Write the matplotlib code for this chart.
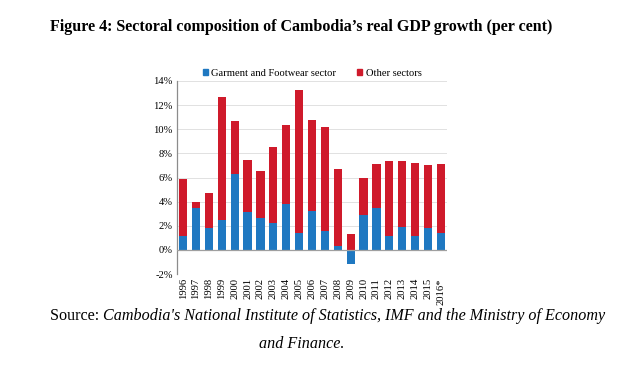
import numpy as np
import matplotlib.pyplot as plt
from matplotlib.patches import Patch

# Data (per cent)
years = ['1996', '1997', '1998', '1999', '2000', '2001', '2002', '2003', '2004',
         '2005', '2006', '2007', '2008', '2009', '2010', '2011', '2012', '2013',
         '2014', '2015', '2016*']
garment = [1.16, 3.51, 1.80, 2.49, 6.27, 3.15, 2.68, 2.26, 3.81, 1.38, 3.26,
           1.60, 0.33, -1.19, 2.87, 3.45, 1.16, 1.88, 1.19, 1.80, 1.38]
other = [4.72, 0.47, 2.90, 10.21, 4.44, 4.31, 3.87, 6.24, 6.52, 11.88, 7.51,
         8.62, 6.35, 1.35, 3.12, 3.65, 6.21, 5.52, 5.99, 5.27, 5.74]
yticks = [-2, 0, 2, 4, 6, 8, 10, 12, 14]

BLUE = '#1F78C1'
RED = '#CF1A2B'
SERIF = ['Liberation Serif', 'DejaVu Serif']

plt.rcParams['font.family'] = SERIF

fig = plt.figure(figsize=(6.36, 3.75), dpi=100)
ax = fig.add_axes([177 / 636, 1 - 274 / 375, 270 / 636, 193 / 375])

x = np.arange(len(years))
bottoms = np.maximum(np.array(garment), 0)
ax.bar(x, garment, width=0.64, color=BLUE, zorder=3)
ax.bar(x, other, bottom=bottoms, width=0.64, color=RED, zorder=3)

ax.set_xlim(-0.47, len(years) - 0.53)
ax.set_ylim(-2, 14)
ax.set_yticks(yticks)
ax.set_yticklabels([f'{v}%' for v in yticks], fontsize=7.6)
ax.set_xticks(x)
ax.set_xticklabels(years, rotation=90, fontsize=7.7)
ax.tick_params(axis='both', length=0, pad=3)
ax.tick_params(axis='x', pad=3)

ax.grid(axis='y', color='#DCDCDC', linewidth=0.6, zorder=0)
ax.axhline(0, color='#A0A0A0', linewidth=0.9, zorder=4)
for side in ['top', 'right', 'bottom']:
    ax.spines[side].set_visible(False)
ax.spines['left'].set_color('#8C8C8C')
ax.spines['left'].set_linewidth(0.9)

handles = [Patch(color=BLUE, label='Garment and Footwear sector'),
           Patch(color=RED, label='Other sectors')]
fig.legend(handles=handles, loc='center', bbox_to_anchor=(312 / 636, 1 - 73 / 375),
           ncol=2, frameon=False, fontsize=7.6, handlelength=0.5, handleheight=0.5,
           handletextpad=0.3, columnspacing=2.0, borderpad=0)

fig.text(50 / 636, 1 - 27 / 375,
         'Figure 4: Sectoral composition of Cambodia\u2019s real GDP growth (per cent)',
         fontsize=11.5, fontweight='bold', va='center', ha='left')

src = fig.text(50 / 636, 1 - 316 / 375, 'Source: ', fontsize=11.6, va='center', ha='left')
ax.annotate('Cambodia\'s National Institute of Statistics, IMF and the Ministry of Economy',
            xy=(1, 0), xycoords=src, va='bottom', ha='left', fontsize=11.6,
            style='italic', annotation_clip=False)
fig.text(302 / 636, 1 - 344 / 375, 'and Finance.', fontsize=11.6, style='italic',
         va='center', ha='center')

fig.savefig('out.png', dpi=100)
